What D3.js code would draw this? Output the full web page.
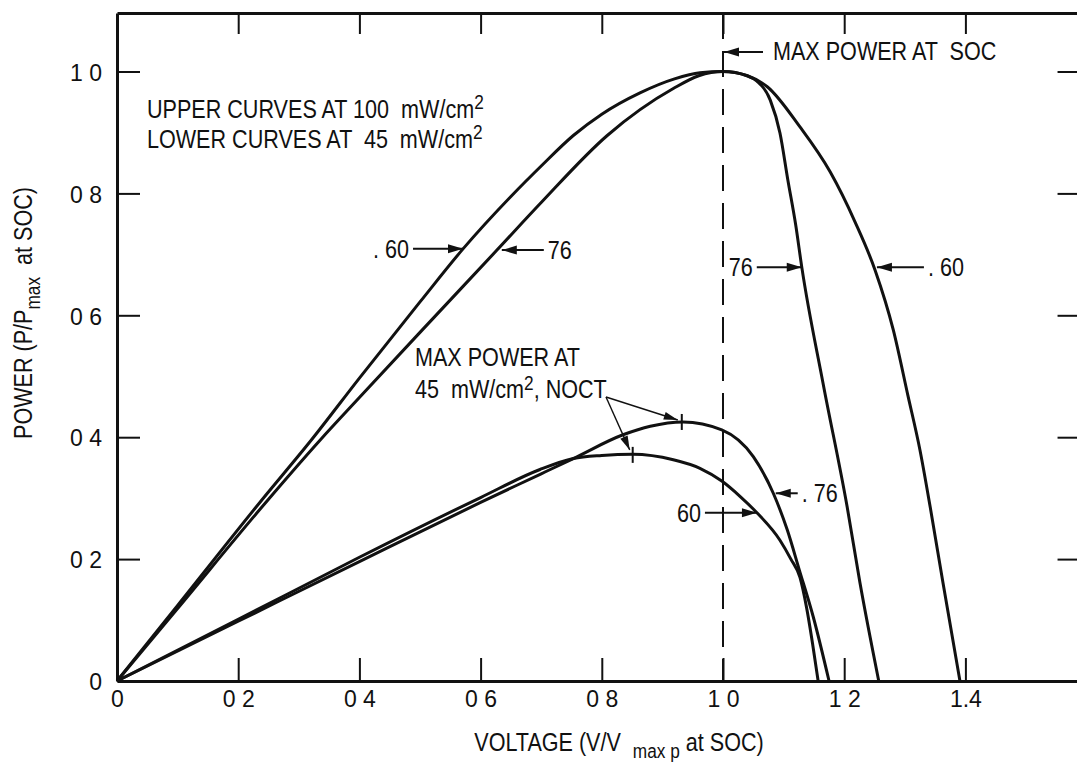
<!DOCTYPE html>
<html>
<head>
<meta charset="utf-8">
<script src="https://cdn.jsdelivr.net/npm/d3@7"></script>
<style>
  html, body { margin: 0; padding: 0; background: #fff; }
  svg { display: block; }
  text { font-family: "Liberation Sans", Arial, sans-serif; fill: #111; white-space: pre; }
</style>
</head>
<body>
<svg id="chart" width="1077" height="766"></svg>
<script>
// Normalised power vs. normalised voltage for two cell types (.60 and .76)
// Upper curves: 100 mW/cm2 illumination; lower curves: 45 mW/cm2, NOCT.

const up60V = [0, 0.10, 0.239, 0.322, 0.40, 0.50, 0.571, 0.65, 0.70, 0.753, 0.80, 0.863, 0.92, 0.962, 1.0, 1.04, 1.073, 1.127, 1.177, 1.218, 1.251, 1.281, 1.305, 1.325, 1.342, 1.363, 1.391];
const up60P = [0, 0.124, 0.297, 0.397, 0.497, 0.622, 0.709, 0.795, 0.845, 0.895, 0.930, 0.965, 0.988, 0.998, 1.0, 0.993, 0.975, 0.909, 0.835, 0.753, 0.674, 0.576, 0.469, 0.379, 0.285, 0.161, 0];

const up76V = [0, 0.10, 0.249, 0.335, 0.40, 0.50, 0.627, 0.70, 0.809, 0.918, 0.96, 1.0, 1.04, 1.056, 1.078, 1.094, 1.107, 1.120, 1.130, 1.165, 1.205, 1.226, 1.257];
const up76P = [0, 0.119, 0.297, 0.395, 0.465, 0.572, 0.707, 0.785, 0.895, 0.972, 0.993, 1.0, 0.993, 0.984, 0.953, 0.899, 0.822, 0.748, 0.679, 0.489, 0.285, 0.161, 0];

const lo60V = [0, 0.2, 0.4, 0.6, 0.698, 0.753, 0.80, 0.851, 0.918, 0.962, 0.998, 1.028, 1.056, 1.094, 1.112, 1.127, 1.138, 1.148, 1.157];
const lo60P = [0, 0.101, 0.203, 0.301, 0.347, 0.365, 0.370, 0.372, 0.363, 0.349, 0.328, 0.303, 0.276, 0.231, 0.200, 0.170, 0.120, 0.060, 0];

const lo76V = [0, 0.2, 0.4, 0.6, 0.70, 0.753, 0.835, 0.88, 0.934, 0.998, 1.05, 1.083, 1.106, 1.126, 1.149, 1.175];
const lo76P = [0, 0.098, 0.196, 0.293, 0.340, 0.365, 0.404, 0.418, 0.425, 0.412, 0.368, 0.308, 0.248, 0.182, 0.105, 0];

// Max power points at 45 mW/cm2, NOCT
const noctV = [0.932, 0.851];
const noctP = [0.425, 0.371];

const xTickVals = [0, 0.2, 0.4, 0.6, 0.8, 1.0, 1.2, 1.4];
const xTickLabels = ["0", "0 2", "0 4", "0 6", "0 8", "1 0", "1 2", "1.4"];
const yTickVals = [0, 0.2, 0.4, 0.6, 0.8, 1.0];
const yTickLabels = ["0", "0 2", "0 4", "0 6", "0 8", "1 0"];

const svg = d3.select("#chart");
svg.append("rect").attr("width", 1077).attr("height", 766).attr("fill", "#fff");

const xMax = 1.59, yMax = 1.096;
const x = d3.scaleLinear().domain([0, xMax]).range([117, 117 + xMax * 606]);
const y = d3.scaleLinear().domain([0, yMax]).range([681, 681 - yMax * 609.5]);

const ink = "#111";

// ---- frame and ticks (ticks point inward on all four sides) ----
const tickLen = 23;
const axB = svg.append("g").attr("transform", `translate(0,${y(0)})`)
  .call(d3.axisBottom(x).tickValues(xTickVals).tickSize(-tickLen).tickSizeOuter(0)
    .tickPadding(10).tickFormat((d, i) => xTickLabels[i]));
const axL = svg.append("g").attr("transform", `translate(${x(0)},0)`)
  .call(d3.axisLeft(y).tickValues(yTickVals).tickSize(-tickLen).tickSizeOuter(0)
    .tickPadding(15).tickFormat((d, i) => yTickLabels[i]));
const axT = svg.append("g").attr("transform", `translate(0,${y(yMax)})`)
  .call(d3.axisTop(x).tickValues(xTickVals.slice(1)).tickSize(-tickLen + 2).tickSizeOuter(0).tickFormat(""));
const axR = svg.append("g").attr("transform", `translate(${x(xMax)},0)`)
  .call(d3.axisRight(y).tickValues(yTickVals.slice(1)).tickSize(-tickLen).tickSizeOuter(0).tickFormat(""));

[axB, axL, axT, axR].forEach(a => {
  a.select(".domain").attr("stroke", ink).attr("stroke-width", 3);
  a.selectAll(".tick line").attr("stroke", ink).attr("stroke-width", 2);
  a.selectAll(".tick text").attr("font-size", 23).attr("fill", ink)
    .attr("font-family", "'Liberation Sans', Arial, sans-serif");
});
// the zero ticks sit on the frame corner
axB.selectAll(".tick").filter(d => d === 0).select("line").remove();
axL.selectAll(".tick").filter(d => d === 0).select("line").remove();
axL.selectAll(".tick text").attr("dy", "0.38em");

// ---- max power at SOC reference line ----
svg.append("line")
  .attr("x1", x(1.0)).attr("x2", x(1.0))
  .attr("y1", y(yMax)).attr("y2", y(0))
  .attr("stroke", ink).attr("stroke-width", 2)
  .attr("stroke-dasharray", "26 12");

// ---- curves ----
const line = d3.line().x(d => x(d[0])).y(d => y(d[1])).curve(d3.curveMonotoneX);
const series = [
  [up60V, up60P], [up76V, up76P], [lo60V, lo60P], [lo76V, lo76P]
];
series.forEach(([vs, ps]) => {
  svg.append("path")
    .datum(vs.map((v, i) => [v, ps[i]]))
    .attr("d", line)
    .attr("fill", "none")
    .attr("stroke", ink)
    .attr("stroke-width", 3)
    .attr("stroke-linejoin", "round");
});

// short markers on the NOCT max-power points
noctV.forEach((v, i) => {
  svg.append("line")
    .attr("x1", x(v)).attr("x2", x(v))
    .attr("y1", y(noctP[i]) - 8).attr("y2", y(noctP[i]) + 8)
    .attr("stroke", ink).attr("stroke-width", 2);
});

// ---- text helper: condensed lettering with sub/superscripts ----
function label(x0, y0, parts, opt = {}) {
  const size = opt.size || 26, sx = opt.sx || 0.83;
  const g = svg.append("g")
    .attr("transform", `translate(${x0},${y0})${opt.rotate ? ` rotate(${opt.rotate})` : ""} scale(${sx},1)`);
  const t = g.append("text").attr("font-size", size).attr("text-anchor", opt.anchor || "start");
  let shift = 0;
  parts.forEach(p => {
    const [str, kind] = typeof p === "string" ? [p, "n"] : p;
    const target = kind === "sup" ? -(opt.supShift || 0.36) * size : kind === "sub" ? (opt.subShift || 0.3) * size : 0;
    const ts = t.append("tspan").attr("dy", target - shift).text(str);
    if (kind !== "n") ts.attr("font-size", size * 0.8);
    shift = target;
  });
  return t;
}

function arrowHead(tx, ty, fx, fy, len = 15, hw = 4.5) {
  const a = Math.atan2(ty - fy, tx - fx);
  const bx = tx - len * Math.cos(a), by = ty - len * Math.sin(a);
  const nx = -Math.sin(a) * hw, ny = Math.cos(a) * hw;
  svg.append("path")
    .attr("d", `M${tx},${ty}L${bx + nx},${by + ny}L${bx - nx},${by - ny}Z`)
    .attr("fill", ink);
}

function arrow(fx, fy, tx, ty, w = 2, len = 15, hw = 4.5) {
  svg.append("line").attr("x1", fx).attr("y1", fy).attr("x2", tx).attr("y2", ty)
    .attr("stroke", ink).attr("stroke-width", w);
  arrowHead(tx, ty, fx, fy, len, hw);
}

// ---- axis titles ----
label(619, 751, ["VOLTAGE (V/V  ", ["max p", "sub"], " at SOC)"], { anchor: "middle", subShift: 0.27 });
label(32, 313, ["POWER (P/P", ["max", "sub"], "  at SOC)"], { anchor: "middle", rotate: -90 });

// ---- legend notes ----
label(147, 118, ["UPPER CURVES AT 100  mW/cm", ["2", "sup"]]);
label(147, 148, ["LOWER CURVES AT  45  mW/cm", ["2", "sup"]]);

// max power at SOC
{
  const tx = x(1.0), ty = 52;
  arrow(tx + 40, ty, tx + 1, ty);
  label(tx + 50, ty + 8, ["MAX POWER AT  SOC"]);
}

// curve labels with arrows (tip on the curve)
function tagRight(v, p, len, txt) {   // text on the left, arrow pointing right
  const tx = x(v), ty = y(p);
  arrow(tx - len, ty, tx, ty);
  label(tx - len - 4, ty + 9, [txt], { anchor: "end" });
}
function tagLeft(v, p, len, txt) {    // text on the right, arrow pointing left
  const tx = x(v), ty = y(p);
  arrow(tx + len, ty, tx, ty);
  label(tx + len + 4, ty + 9, [txt]);
}
tagRight(0.571, 0.709, 50, ". 60");
tagLeft(0.635, 0.707, 42, "76");
tagRight(1.130, 0.679, 45, "76");
tagLeft(1.254, 0.679, 47, ". 60");
tagLeft(1.087, 0.308, 22, ". 76");
tagRight(1.056, 0.276, 52, "60");

// NOCT max power note with leaders to both marked points
label(415, 366, ["MAX POWER AT"]);
label(415, 398, ["45  mW/cm", ["2", "sup"], ", NOCT"], { supShift: 0.3 });
{
  const ox = 606, oy = 397;
  arrow(ox, oy, x(noctV[0]) - 4, y(noctP[0]) - 2, 1.4, 14, 4);
  arrow(ox, oy, x(noctV[1]) - 3, y(noctP[1]) - 5, 1.4, 14, 4);
}
</script>
</body>
</html>
